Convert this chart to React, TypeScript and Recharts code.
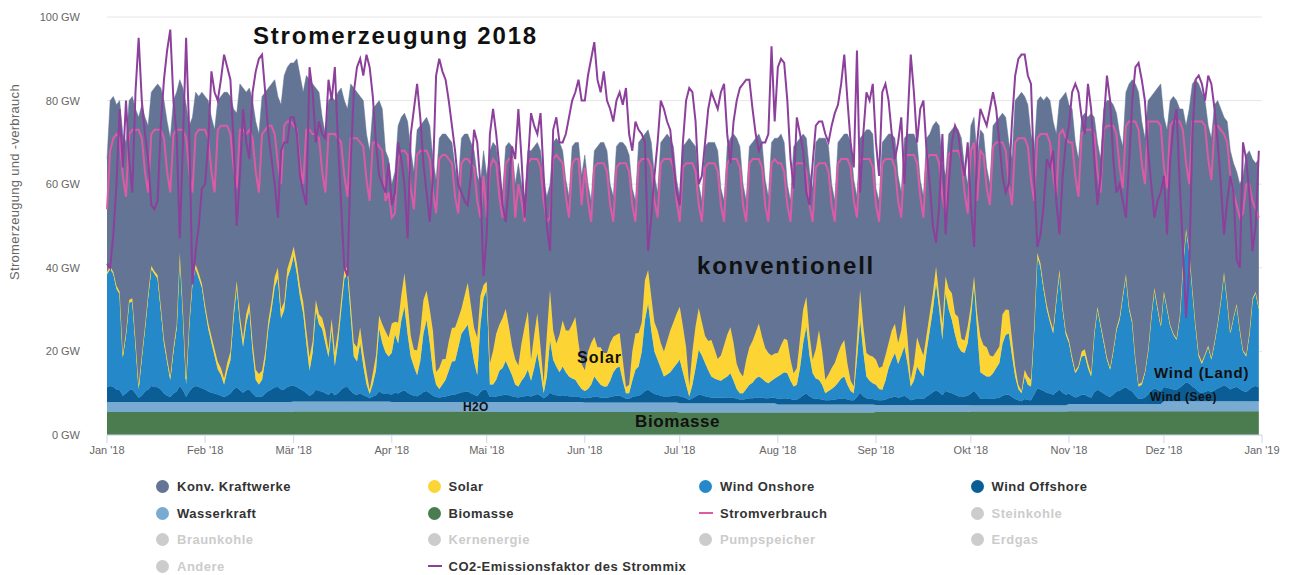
import { ComposedChart, Area, Line, XAxis, YAxis, CartesianGrid } from 'recharts';

// Stromerzeugung 2018, Tageswerte in GW. Reihen sind nach Monaten umbrochen.

const FONT = "'Liberation Sans', Arial, Helvetica, sans-serif";
const C = {
  konv: '#637495', solar: '#fcd535', onshore: '#2589c9', offshore: '#0b5d95',
  wasser: '#79aad2', bio: '#4a7c50', verbrauch: '#dd5ba6', co2: '#8c409c',
  grid: '#e6e6e6', axis: '#ccd6eb', tick: '#666666', off: '#cccccc', text: '#333333',
};

const MONTH_DAYS = [31, 28, 31, 30, 31, 30, 31, 31, 30, 31, 30, 31];
const MONTH_LABELS = ["Jan '18", "Feb '18", "Mär '18", "Apr '18", "Mai '18", "Jun '18", "Jul '18", "Aug '18", "Sep '18", "Okt '18", "Nov '18", "Dez '18", "Jan '19"];
const Y_TICKS = [0, 20, 40, 60, 80, 100];

// Monatswerte (fast konstant)
const biomasseMonat = [5.5, 5.5, 5.6, 5.6, 5.5, 5.5, 5.4, 5.4, 5.5, 5.6, 5.7, 5.7];
const wasserkraftMonat = [2.4, 2.4, 2.4, 2.3, 2.4, 2.3, 2.2, 1.9, 1.7, 1.5, 1.7, 2.4];

const windOffshore = [
  3.5,3.8,3.6,3.0,2.8,1.5,2.0,2.8,3.0,2.0,1.0,1.5,2.5,3.0,3.8,3.6,3.5,3.0,2.0,1.5,1.2,2.0,2.5,3.8,2.8,1.2,2.5,3.4,3.8,3.6,3.3,
  3.0,2.5,2.2,2.0,1.8,1.5,1.2,1.5,2.0,3.0,3.5,2.8,2.2,2.8,3.0,2.0,1.3,1.2,1.3,2.0,2.6,3.0,3.5,3.6,3.0,3.0,3.6,3.8,
  3.8,3.5,3.0,2.6,2.0,1.4,1.8,2.8,2.5,2.4,2.0,1.6,2.3,1.5,2.0,2.8,3.4,3.5,2.6,1.8,1.6,2.0,1.5,1.2,0.8,1.2,1.5,2.4,2.0,1.8,1.8,
  1.8,2.2,2.0,2.5,2.8,2.2,1.8,1.5,1.4,1.8,2.4,2.6,2.1,1.5,1.2,1.1,1.2,1.3,1.5,1.7,1.8,2.0,2.3,2.4,2.5,2.1,1.7,1.4,2.4,3.0,
  2.8,1.2,1.2,1.3,1.5,1.6,1.8,1.6,1.4,1.2,1.1,1.3,1.4,1.5,1.3,1.6,1.9,1.5,0.9,1.4,2.2,1.8,1.6,1.5,1.6,1.5,1.4,1.3,1.3,1.2,1.1,
  1.0,1.1,1.2,1.4,1.3,1.2,1.1,1.1,1.3,1.5,1.6,1.6,1.3,0.9,0.9,1.3,1.5,1.6,2.0,2.7,3.0,2.5,2.0,1.8,1.6,1.4,1.4,1.5,1.6,1.7,
  1.7,1.5,1.2,0.8,1.2,1.6,2.0,1.9,1.7,1.5,1.4,1.3,1.3,1.3,1.3,1.4,1.4,1.3,1.1,0.9,0.9,1.0,1.2,1.2,1.3,1.4,1.3,1.2,1.2,1.3,1.3,
  1.3,1.4,1.5,1.4,1.3,1.1,1.2,1.6,2.2,2.6,2.0,1.5,1.4,1.3,1.2,1.0,1.0,1.1,1.2,1.3,1.4,1.5,1.2,1.0,1.0,1.8,2.8,2.0,1.5,1.4,1.3,
  1.2,1.1,1.1,1.3,1.6,1.8,2.0,1.7,1.9,2.2,1.7,1.1,1.3,1.6,1.5,1.4,2.0,2.5,3.0,3.5,3.0,2.3,3.3,3.0,2.8,2.4,2.1,2.0,2.0,2.2,
  2.8,3.5,2.6,1.6,1.5,1.5,1.5,1.6,1.7,1.8,2.3,2.5,2.5,2.0,1.5,1.2,1.0,1.5,1.3,1.2,2.6,4.0,3.8,3.4,3.0,2.8,2.5,3.2,3.7,3.0,2.5,
  2.5,2.0,1.6,1.8,2.2,2.2,1.8,1.5,2.8,3.4,3.0,2.5,2.0,1.7,2.3,3.0,3.2,3.7,4.0,3.4,3.0,2.0,1.2,1.3,1.6,2.3,3.2,3.8,3.4,3.0,
  3.4,3.2,3.0,2.8,2.7,3.2,3.8,4.5,4.2,3.5,3.0,2.2,2.0,2.2,2.5,2.2,2.6,3.0,3.4,3.8,3.4,2.8,3.2,3.4,2.9,2.4,2.2,2.8,3.4,3.6,3.3,
];

const windOnshore = [
  27,28,27,24,23,9,14,21,21,12,2,9,15,22,28,27,26,19,12,8,4,10,15,31,18,3,16,25,28,26,24,
  19,15,12,9,6,5,3,6,8,17,24,16,11,16,19,10,4,3,4,8,15,19,24,26,17,19,26,28,
  31,27,22,18.5,12,6,10,19,16,15,12,9,15,7,12,19,26,27,18,9,8,12,7,3,1,3,6,15,12,10,9,
  10,14,12,17,20,14,9,7,5,8,14,17,12,6,3,2,3,4,6,8,8,11,14,15,16,12,8,5,16,22,
  24,3,3,4,6,6.5,8,6.5,5,3,2.6,3.8,4.7,6.2,3.8,6.5,9.8,5.6,1.2,4.7,12.6,8.3,6.9,5.6,6.9,5.6,4.7,4.3,4,2.9,2,
  1.7,2.1,3,4.8,3.9,3,2.7,2.7,3.9,5.7,6.6,7,3.9,1.3,1.3,3.9,6.3,7,10.2,17,20.7,14.7,10.2,8.4,6.6,4.8,5.3,5.7,6.6,7.5,
  8.7,5.9,3.2,0.8,3.2,6.8,10.8,9.5,7.9,6.4,5,4.6,4.3,4.1,4.6,5,5.8,4.1,2.3,1.5,1.5,2.4,3.2,3.7,4.6,5,4.6,4,3.6,4.1,4.6,
  5.4,5.8,6.2,6.1,4.4,3.2,3.5,7.1,12.5,16,9.7,6,4.8,4.6,3.5,1.7,2.2,2.6,3.1,3.9,4.8,5.2,3.5,2.2,1.7,8.9,17.4,10.7,5.2,4.3,3.8,
  3.6,2.7,2.5,4.5,7.2,9,10.4,8.1,9.9,11.8,8.1,3.3,4.5,7.6,6.3,5.4,10.8,15.3,19.8,25.6,19.8,13.2,23.4,19.8,17.5,14.4,11.9,10.8,10.4,12.6,
  18.1,25.4,15.3,6.3,5.9,5.4,5.4,6.1,7.2,8.3,12.5,14.4,14.7,9.9,5.4,2.7,1.9,5.4,3.6,3.3,15.3,31.6,29.1,24.2,19.9,17.1,14.7,21.7,27.9,19.9,14.4,
  12.1,8.6,5.8,6.8,9.2,9.4,6.8,5.1,13.8,19.2,15.6,12.1,8.6,6.5,10.3,14.6,16.9,21.9,26.5,19.2,16.3,8.6,3,3.3,5.8,10.3,17.4,23.5,19.2,15.5,
  22.5,18.7,14.9,13.1,11.9,16.7,28.1,36.4,31.7,23.1,14.9,8.5,6.9,8.7,10.4,7.7,11.3,15.6,20.5,26.8,20.5,13.4,16.7,19.5,14,9.5,8.5,13.1,20.8,22.2,18.6,
];

const solar = [
  0.6,0.7,0.5,0.8,0.6,0.9,0.7,0.6,0.8,0.9,1.0,0.8,0.7,0.9,0.8,0.7,0.9,1.0,1.1,0.9,1.0,1.1,0.9,0.8,1.2,1.3,1.0,0.9,1.1,1.2,1.0,
  1.2,1.4,1.5,1.6,1.8,1.6,1.4,1.9,2.0,1.7,1.5,1.8,2.0,2.2,1.9,2.3,2.4,2.5,2.2,2.0,1.9,2.1,2.4,2.6,2.2,2.0,2.3,2.5,
  2.3,2.5,2.6,2.8,3.0,3.2,2.7,2.5,2.4,2.6,3.0,1.8,2.5,3.3,2.8,2.5,2.0,1.8,3.0,3.2,3.4,3.8,3.5,3.0,1.0,2.5,3.5,3.2,4.5,5.0,4.5,
  7,3,5,6,8,7.5,5,4,6,7,8,7,8,9.5,3,5,6,5,7,8,8,7,6,8,10,9,8,9,7,3,
  2,5,8,11,11,12,12.5,10,7,6,5,9,12,14,5,8,9.5,6,2.5,10,12,7,5.5,9,11,10,11,13,15,10,6,
  5,9,10,9.5,8,9,8,8,9,8.5,8,8,5,1.5,2,7,8.7,8,7,9.5,8,8,7,7,6,6,8,10,11,12,
  12.7,11,9,2.5,8,10,10,8,6.5,7,8.7,7,5,6,8,10,11,9,6,5,4,7,9,10,11,12.7,10,8,7.2,6,6,
  5.6,7,8,7.9,5,3.2,4,7,8,7.2,5,3.2,7,11.9,8,3.2,4,5,5.6,7,8,8.7,5,2.5,1.6,5,7.2,6,5.6,6,6.4,
  6,5,5.6,6,6,7,7,5,6,10,6,1.6,4,7,6,5,4,4,4,4,3,4,4,5,6.4,5,7,3,3,4,
  3,2,4,8.5,7,7,5,4,4,4,7,6,5.6,4,2.4,1,0.5,1.6,2,1.6,1.2,0.9,1.0,0.8,1.1,0.9,1.0,0.8,0.9,0.7,0.8,
  0.7,0.8,0.6,0.5,1.2,1.5,1.2,0.7,0.6,0.7,0.6,0.7,0.6,0.5,0.5,0.6,0.7,0.6,0.6,0.7,0.6,0.5,0.5,0.6,0.4,0.4,0.5,0.5,0.6,0.5,
  0.4,0.5,0.4,0.3,0.4,0.5,0.4,0.3,0.4,0.4,0.5,0.6,0.5,0.4,0.4,0.5,0.4,0.3,0.4,0.3,0.4,0.4,0.3,0.4,0.4,0.3,0.4,0.5,0.4,0.4,0.5,
];

// Gesamterzeugung (Oberkante der Fläche); konventionell = Rest
const gesamt = [
  66,80,81,79,80,72,70,80,81,78,76,79,76,74,82,83,84,83,80,75,71,80,82,85,83,79,74,76,82,81,82,
  81,80,76,73,80,81,82,82,81,78,77,84,83,82,83,80,75,72,81,82,83,84,85,81,79,86,88,89,
  89,90,86,82,86,85,84,83,82,76,72,80,81,80,82,83,80,78,84,83,82,81,80,72,68,78,79,80,78,68,66,
  60,63,74,76,77,75,68,63,73,74,75,76,74,66,61,71,72,72,71,70,64,60,71,72,72,70,68,62,60,68,
  62,68,70,69,62,58,69,70,69,60,65,60,57,68,68,69,70,68,61,57,60,70,71,70,68,61,57,69,70,70,62,
  67,60,56,68,69,70,70,68,60,57,69,70,70,69,67,59,56,70,71,72,73,70,62,58,70,71,72,71,69,61,
  57,69,70,71,70,69,60,56,69,70,70,70,68,59,56,69,71,72,71,69,60,56,69,70,71,72,70,61,57,70,71,
  71,72,70,60,56,69,70,71,72,71,63,59,70,71,71,71,69,60,56,70,71,72,72,70,61,57,71,72,73,73,72,
  59,56,70,71,72,72,71,62,58,71,72,72,72,70,61,57,71,72,74,75,74,65,62,72,73,74,73,71,64,60,
  74,76,66,73,72,64,60,74,75,76,77,76,70,66,80,81,82,81,79,72,68,80,81,80,81,80,75,72,80,81,82,
  79,78,70,66,76,77,76,77,76,70,66,78,80,80,79,77,72,69,82,84,85,84,82,75,71,80,81,82,83,84,
  76,73,80,81,80,78,78,74,78,84,85,84,82,80,74,71,79,80,78,76,75,68,65,63,60,62,67,68,66,65,66,
];

const stromverbrauch = [
  54,68,71,72,71,62,57,72,73,73,73,71,63,58,72,73,73,73,71,63,58,72,73,73,73,71,63,58,72,73,73,
  73,71,63,58,73,74,74,74,72,64,59,73,73,72,73,71,63,58,72,73,74,74,72,65,60,74,75,75,
  74,73,65,60,73,73,72,72,71,63,58,72,72,72,71,70,62,57,71,71,71,70,69,61,56,70,70,69,68,56,58,
  52,53,66,68,68,67,59,54,67,68,68,68,66,58,53,66,67,67,66,65,57,53,65,66,66,65,64,56,52,62,
  52,64,66,65,57,52,65,66,66,52,60,56,51,65,66,66,66,64,56,51,52,66,67,66,65,57,52,65,66,66,55,
  64,56,51,64,65,65,65,63,55,51,64,65,65,65,63,55,51,65,66,66,66,64,56,52,65,66,66,66,64,56,
  51,64,65,65,65,63,55,51,64,65,65,65,63,55,51,65,66,66,66,64,55,51,65,66,66,66,64,55,51,65,66,
  65,65,63,55,51,64,65,65,65,63,55,51,64,65,65,65,63,55,51,65,66,66,66,64,56,52,66,66,66,66,64,
  55,51,65,66,66,66,64,56,52,66,67,67,67,65,57,52,66,67,67,67,65,57,53,67,68,68,68,66,58,53,
  68,70,56,68,67,59,55,69,70,70,70,68,60,55,70,71,71,71,69,61,56,71,72,72,72,70,62,57,72,73,71,
  70,70,62,57,72,73,73,73,72,63,58,73,74,74,74,72,64,59,74,75,75,75,73,65,60,75,75,75,75,74,
  64,59,74,75,75,75,73,65,60,75,75,75,75,74,66,61,74,74,73,72,70,62,58,55,52,53,60,60,56,54,52,
];

const co2Faktor = [
  41,40,48,60,78,64,80,66,58,82,95,80,72,66,55,54,56,74,85,92,97,80,72,47,70,95,72,36,44,50,59,
  60,70,87,82,80,85,91,88,85,70,50,62,78,70,66,82,87,90,91,82,72,66,60,52,68,70,70,76,
  76,72,62,58,55,88,82,70,75,72,71,85,80,88,70,55,40,38,65,82,88,90,86,91,88,81,70,62,60,58,65,
  55,58,70,66,60,47,72,78,84,76,65,58,51,62,86,90,87,85,80,74,68,60,58,56,55,62,73,70,60,38,
  48,72,78,72,64,55,51,60,69,66,78,66,52,65,77,74,72,77,62,50,44,73,76,70,70,72,76,80,82,85,80,
  80,86,90,94,85,82,87,80,78,75,80,82,79,83,72,68,75,73,72,70,44,52,62,70,80,78,75,73,65,58,
  55,70,80,83,82,75,60,62,70,78,82,80,78,82,84,72,65,75,80,83,84,85,85,78,72,68,70,70,72,93,75,
  88,90,89,80,66,59,76,72,68,58,55,65,74,75,75,72,70,74,77,79,84,91,80,70,64,92,58,72,82,80,84,
  70,62,82,84,80,72,66,70,76,60,75,91,82,70,78,80,68,60,50,46,55,72,48,60,70,74,72,66,62,70,
  55,45,70,78,76,74,78,82,78,70,62,58,60,75,86,90,91,91,86,84,62,45,48,55,66,64,68,56,48,62,70,
  74,82,84,82,76,72,84,78,66,55,62,75,86,80,66,58,60,56,52,65,80,88,89,85,80,68,60,52,56,58,
  62,48,66,74,78,60,45,28,40,72,85,86,84,80,86,84,78,70,60,48,56,62,58,42,40,70,66,58,44,50,68,
];

const MONTH_START = MONTH_DAYS.reduce((acc, d) => [...acc, acc[acc.length - 1] + d], [0]);
const monthOf = (i: number) => MONTH_START.findIndex((s, m) => i >= s && i < MONTH_START[m + 1]);

const rows = gesamt.map((g, i) => {
  const m = monthOf(i);
  const bio = biomasseMonat[m];
  const wasser = wasserkraftMonat[m];
  const renew = bio + wasser + windOffshore[i] + windOnshore[i] + solar[i];
  return {
    tag: i,
    bio, wasser,
    offshore: windOffshore[i],
    onshore: windOnshore[i],
    solar: solar[i],
    konv: Math.max(0, +(g - renew).toFixed(1)),
    verbrauch: stromverbrauch[i],
    co2: co2Faktor[i],
  };
});

const LEGEND = [
  { name: 'Konv. Kraftwerke', color: C.konv, kind: 'dot', on: true },
  { name: 'Solar', color: C.solar, kind: 'dot', on: true },
  { name: 'Wind Onshore', color: C.onshore, kind: 'dot', on: true },
  { name: 'Wind Offshore', color: C.offshore, kind: 'dot', on: true },
  { name: 'Wasserkraft', color: C.wasser, kind: 'dot', on: true },
  { name: 'Biomasse', color: C.bio, kind: 'dot', on: true },
  { name: 'Stromverbrauch', color: C.verbrauch, kind: 'line', on: true },
  { name: 'Steinkohle', color: C.off, kind: 'dot', on: false },
  { name: 'Braunkohle', color: C.off, kind: 'dot', on: false },
  { name: 'Kernenergie', color: C.off, kind: 'dot', on: false },
  { name: 'Pumpspeicher', color: C.off, kind: 'dot', on: false },
  { name: 'Erdgas', color: C.off, kind: 'dot', on: false },
  { name: 'Andere', color: C.off, kind: 'dot', on: false },
  { name: 'CO2-Emissionsfaktor des Strommix', color: C.co2, kind: 'line', on: true },
];

const lbl = (x: number, y: number, size: number, ls = 0) => ({
  position: 'absolute' as const, left: x - 8, top: y - 8 - size * 0.6, fontSize: size,
  fontWeight: 700, color: '#111', letterSpacing: ls, whiteSpace: 'nowrap' as const, lineHeight: `${size * 1.2}px`,
});

export default function App() {
  return (
    <div style={{ position: 'relative', width: 1284, height: 567, fontFamily: FONT, background: '#fff' }}>
      <ComposedChart width={1284} height={462} data={rows} margin={{ top: 9, right: 30, bottom: 5, left: 0 }}>
        <CartesianGrid stroke={C.grid} vertical={false} />
        <XAxis dataKey="tag" type="number" domain={[0, 365]} ticks={MONTH_START} tickFormatter={(v: number) => MONTH_LABELS[MONTH_START.indexOf(v)]}
          height={30} stroke={C.axis} tickSize={8} tickMargin={3} tick={{ fill: C.tick, fontSize: 11, fontFamily: FONT }} />
        <YAxis domain={[0, 100]} ticks={Y_TICKS} tickFormatter={(v: number) => `${v} GW`} width={99} axisLine={false} tickLine={false}
          tickSize={0} tickMargin={27} tick={{ fill: C.tick, fontSize: 11, fontFamily: FONT }} />
        <Area type="linear" dataKey="bio" stackId="s" fill={C.bio} stroke={C.bio} strokeWidth={0.5} fillOpacity={1} isAnimationActive={false} />
        <Area type="linear" dataKey="wasser" stackId="s" fill={C.wasser} stroke={C.wasser} strokeWidth={0.5} fillOpacity={1} isAnimationActive={false} />
        <Area type="linear" dataKey="offshore" stackId="s" fill={C.offshore} stroke={C.offshore} strokeWidth={0.5} fillOpacity={1} isAnimationActive={false} />
        <Area type="linear" dataKey="onshore" stackId="s" fill={C.onshore} stroke={C.onshore} strokeWidth={0.5} fillOpacity={1} isAnimationActive={false} />
        <Area type="linear" dataKey="solar" stackId="s" fill={C.solar} stroke={C.solar} strokeWidth={1} fillOpacity={1} isAnimationActive={false} />
        <Area type="linear" dataKey="konv" stackId="s" fill={C.konv} stroke={C.konv} strokeWidth={0.5} fillOpacity={1} isAnimationActive={false} />
        <Line type="linear" dataKey="verbrauch" stroke={C.verbrauch} strokeWidth={2} dot={false} isAnimationActive={false} />
        <Line type="linear" dataKey="co2" stroke={C.co2} strokeWidth={2} dot={false} isAnimationActive={false} />
      </ComposedChart>

      <div style={{ position: 'absolute', left: 15 - 8 - 120, top: 182 - 8 - 8, width: 240, textAlign: 'center', fontSize: 13, letterSpacing: 0.3, color: C.tick, transform: 'rotate(-90deg)', lineHeight: '16px' }}>
        Stromerzeugung und -verbrauch
      </div>

      <div style={lbl(253, 36, 24, 1.8)}>Stromerzeugung 2018</div>
      <div style={lbl(697, 266, 24, 1.8)}>konventionell</div>
      <div style={lbl(577, 358, 16, 1)}>Solar</div>
      <div style={lbl(1154, 373, 15, 0.8)}>Wind (Land)</div>
      <div style={lbl(1150, 397, 12, 0.5)}>Wind (See)</div>
      <div style={lbl(463, 407, 12, 0.3)}>H2O</div>
      <div style={lbl(635, 422, 17, 0.6)}>Biomasse</div>

      <div style={{ position: 'absolute', left: 156 - 8, top: 473 - 8, display: 'grid', gridTemplateColumns: 'repeat(4, 271.5px)', gridAutoRows: '26.7px' }}>
        {LEGEND.map((it) => (
          <div key={it.name} style={{ display: 'flex', alignItems: 'center', fontSize: 13, fontWeight: 700, letterSpacing: 0.5, color: it.on ? C.text : C.off }}>
            {it.kind === 'dot'
              ? <span style={{ width: 13, height: 13, borderRadius: '50%', background: it.color, display: 'inline-block', marginRight: 8 }} />
              : <span style={{ width: 14, height: 2, background: it.color, display: 'inline-block', marginRight: 7 }} />}
            {it.name}
          </div>
        ))}
      </div>
    </div>
  );
}
